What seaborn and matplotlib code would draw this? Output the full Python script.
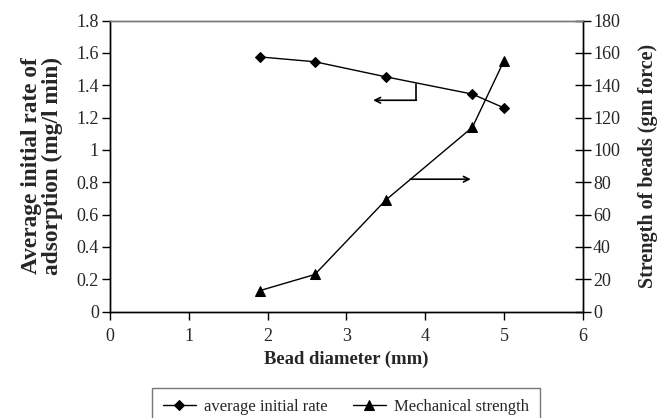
import matplotlib
matplotlib.use("Agg")
import matplotlib.pyplot as plt
import seaborn as sns
import pandas as pd

bead_diameter = [1.9, 2.6, 3.5, 4.6, 5.0]
avg_initial_rate = [1.575, 1.545, 1.452, 1.345, 1.26]
mech_strength = [13, 23, 69, 114, 155]

sns.set_style("white")
plt.rcParams['font.family'] = ['Liberation Serif', 'DejaVu Serif']

df = pd.DataFrame({"x": bead_diameter, "rate": avg_initial_rate, "strength": mech_strength})

fig = plt.figure(figsize=(6.59, 4.18), dpi=100)
ax = fig.add_axes([110/659, 1-311.7/418, (582.7-110)/659, (311.7-20.5)/418])
ax2 = ax.twinx()

sns.lineplot(data=df, x="x", y="rate", ax=ax, color="black", lw=1, marker="D",
             markersize=5, markeredgecolor="black", label="average initial rate", legend=False)
sns.lineplot(data=df, x="x", y="strength", ax=ax2, color="black", lw=1, marker="^",
             markersize=7, markeredgecolor="black", label="Mechanical strength", legend=False)

ax.set_xlim(0, 6)
ax.set_ylim(0, 1.8)
ax2.set_ylim(0, 180)
ax.set_xticks(range(0, 7))
ax.set_yticks([0, 0.2, 0.4, 0.6, 0.8, 1, 1.2, 1.4, 1.6, 1.8])
ax.set_yticklabels(["0", "0.2", "0.4", "0.6", "0.8", "1", "1.2", "1.4", "1.6", "1.8"])
ax2.set_yticks(range(0, 181, 20))

for a in (ax, ax2):
    for s in a.spines.values():
        s.set_color("black")
        s.set_linewidth(1)
    a.spines['top'].set_color("#777777")
ax.tick_params(axis='y', direction='out', length=6, width=1, color='black', labelsize=13, pad=2, left=True)
ax.tick_params(axis='x', direction='out', length=6, width=1, color='black', labelsize=13, pad=6, bottom=True)
ax2.tick_params(axis='y', direction='inout', length=11, width=1, color='black', labelsize=13, pad=2, right=True)

ax.set_xlabel("Bead diameter (mm)", fontsize=13.4, fontweight="bold")
ax.set_ylabel("Average initial rate of\nadsorption (mg/l min)", fontsize=16.8, fontweight="bold",
              linespacing=1.0)
ax2.set_ylabel("Strength of beads (gm force)", fontsize=14.5, fontweight="bold")
ax.xaxis.set_label_coords(0.5, -0.135)
ax.yaxis.set_label_coords(-0.10, 0.5)
ax2.yaxis.set_label_coords(1.118, 0.5)

# annotation arrows
ax.plot([3.89, 3.89], [1.41, 1.307], color="black", lw=1.2)
ax.annotate("", xy=(3.34, 1.307), xytext=(3.89, 1.307),
            arrowprops=dict(arrowstyle="->", color="black", lw=1.2, shrinkA=0, shrinkB=0))
ax.annotate("", xy=(4.58, 0.819), xytext=(3.81, 0.819),
            arrowprops=dict(arrowstyle="->", color="black", lw=1.2, shrinkA=0, shrinkB=0))

h1, l1 = ax.get_legend_handles_labels()
h2, l2 = ax2.get_legend_handles_labels()
leg = fig.legend(h1 + h2, l1 + l2, loc="upper center", bbox_to_anchor=(346/659, 1-388/418),
                 ncol=2, fontsize=12, frameon=True, fancybox=False, handlelength=2.0,
                 columnspacing=1.5, borderpad=0.65, handletextpad=0.5, borderaxespad=0)
leg.get_frame().set_edgecolor("#555555")
leg.get_frame().set_linewidth(1)

fig.savefig("out.png", dpi=100)
